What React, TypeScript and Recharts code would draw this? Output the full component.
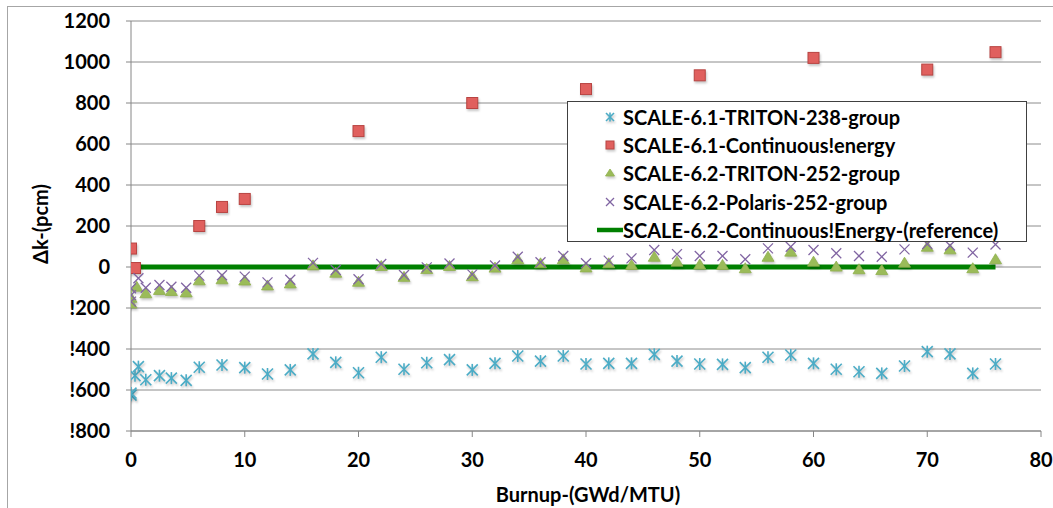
import React from "react";
import { ScatterChart, Scatter, XAxis, YAxis, CartesianGrid, Legend, Label } from "recharts";

// burnup (GWd/MTU) and delta-k (pcm)
const burnupT238 = [0, 0, 0.35, 0.65, 1.3, 2.5, 3.55, 4.85, 6, 8, 10, 12, 14, 16, 18, 20, 22, 24, 26, 28, 30, 32, 34, 36, 38, 40, 42, 44, 46, 48, 50, 52, 54, 56, 58, 60, 62, 64, 66, 68, 70, 72, 74, 76];
const dkT238 = [-625, -615, -530, -486, -550, -530, -542, -553, -489, -478, -491, -522, -502, -424, -465, -516, -440, -499, -467, -452, -502, -470, -434, -459, -434, -473, -470, -470, -426, -459, -473, -475, -491, -440, -429, -470, -499, -511, -519, -483, -413, -424, -519, -473];

const burnupCE61 = [0, 0.35, 6, 8, 10, 20, 30, 40, 50, 60, 70, 76];
const dkCE61 = [90, -5, 200, 293, 332, 663, 800, 868, 935, 1020, 963, 1048];

const burnupT252 = [0, 0, 0.5, 1.3, 2.5, 3.55, 4.85, 6, 8, 10, 12, 14, 16, 18, 20, 22, 24, 26, 28, 30, 32, 34, 36, 38, 40, 42, 44, 46, 48, 50, 52, 54, 56, 58, 60, 62, 64, 66, 68, 70, 72, 74, 76];
const dkT252 = [-150, -178, -96, -128, -112, -117, -124, -65, -60, -66, -90, -80, 8, -28, -72, 5, -48, -10, 5, -45, -3, 38, 18, 38, -2, 18, 10, 50, 26, 12, 10, -6, 50, 75, 26, 2, -11, -15, 21, 99, 86, -6, 38];

const burnupPol = [0, 0, 0, 0.65, 1.3, 2.5, 3.55, 4.85, 6, 8, 10, 12, 14, 16, 18, 20, 22, 24, 26, 28, 30, 32, 34, 36, 38, 40, 42, 44, 46, 48, 50, 52, 54, 56, 58, 60, 62, 64, 66, 68, 70, 72, 74, 76];
const dkPol = [-104, -137, -169, -55, -101, -88, -96, -101, -42, -40, -47, -75, -62, 20, -15, -60, 15, -39, -2, 17, -36, 7, 50, 23, 54, 18, 31, 42, 83, 63, 54, 54, 38, 91, 99, 83, 67, 54, 50, 86, 112, 105, 70, 110];

const burnupRef = [0, 76];
const dkRef = [0, 0];

const xTicks = [0, 10, 20, 30, 40, 50, 60, 70, 80];
const yTicks = [-800, -600, -400, -200, 0, 200, 400, 600, 800, 1000, 1200];

const names = [
  "SCALE-6.1-TRITON-238-group",
  "SCALE-6.1-Continuous!energy",
  "SCALE-6.2-TRITON-252-group",
  "SCALE-6.2-Polaris-252-group",
  "SCALE-6.2-Continuous!Energy-(reference)",
];

const BLUE = "#4bacc6";
const RED = "#e0605e";
const GREEN = "#9bbb59";
const PURPLE = "#8064a2";
const REF = "#008000";
const FONT = "Lato, 'Open Sans', sans-serif";
const shadow = "drop-shadow(1px 2px 1px rgba(0,0,0,0.22))";

const toPoints = (xs: number[], ys: number[]) => xs.map((x, i) => ({ x, y: ys[i] }));

const Star = ({ cx, cy, r = 5.5 }: any) => (
  <g stroke={BLUE} strokeWidth={1.6} style={{ filter: shadow }}>
    <line x1={cx - r} y1={cy - r} x2={cx + r} y2={cy + r} />
    <line x1={cx - r} y1={cy + r} x2={cx + r} y2={cy - r} />
    <line x1={cx} y1={cy - r - 0.5} x2={cx} y2={cy + r + 0.5} />
  </g>
);
const Square = ({ cx, cy, r = 5.5 }: any) => (
  <rect x={cx - r} y={cy - r} width={2 * r} height={2 * r} fill={RED} stroke="#b84442" strokeWidth={1} style={{ filter: shadow }} />
);
const Tri = ({ cx, cy, r = 5.5 }: any) => (
  <path d={`M${cx},${cy - r} L${cx + r + 0.5},${cy + r - 1} L${cx - r - 0.5},${cy + r - 1} Z`} fill={GREEN} stroke="#8fb04d" strokeWidth={0.8} style={{ filter: shadow }} />
);
const Cross = ({ cx, cy, r = 5 }: any) => (
  <g stroke={PURPLE} strokeWidth={1.3}>
    <line x1={cx - r} y1={cy - r} x2={cx + r} y2={cy + r} />
    <line x1={cx - r} y1={cy + r} x2={cx + r} y2={cy - r} />
  </g>
);

const LegendBox = () => {
  const icons = [
    <Star cx={13} cy={14} r={4} />,
    <Square cx={13} cy={14} r={4} />,
    <Tri cx={13} cy={14} r={4} />,
    <Cross cx={13} cy={14} r={4} />,
    <line x1={0} y1={14} x2={26} y2={14} stroke={REF} strokeWidth={4.5} />,
  ];
  return (
    <div style={{ width: 460, height: 141, boxSizing: "border-box", border: "1.5px solid #404040", background: "#fff", paddingTop: 1, paddingLeft: 29 }}>
      {names.map((n, i) => (
        <div key={n} style={{ display: "flex", alignItems: "center", height: 28.2 }}>
          <svg width={26} height={28} style={{ flex: "none" }}>{icons[i]}</svg>
          <span style={{ fontFamily: FONT, fontWeight: 700, fontSize: 20, color: "#000", whiteSpace: "nowrap", lineHeight: "28px" }}>{n}</span>
        </div>
      ))}
    </div>
  );
};

const tickStyle = { fontFamily: FONT, fontWeight: 700, fontSize: 20, fill: "#000" };

export default function App() {
  return (
    <div style={{ position: "absolute", left: 0, top: 0, width: 1053, height: 508, background: "#fff", overflow: "hidden" }}>
      <div style={{ position: "absolute", left: 7, top: 6, width: 1060, height: 520, borderLeft: "1px solid #a6a6a6", borderTop: "1px solid #a6a6a6" }} />
      <ScatterChart width={1053} height={508} margin={{ top: 21, right: 12, bottom: 0, left: 0 }}>
        <CartesianGrid vertical={false} stroke="#8c8c8c" />
        <XAxis
          type="number"
          dataKey="x"
          domain={[0, 80]}
          ticks={xTicks}
          height={77}
          tickSize={6}
          tickMargin={16}
          tick={tickStyle}
          stroke="#868686"
          allowDataOverflow
        >
          <Label
            content={() => (
              <text x={588} y={494} textAnchor="middle" dominantBaseline="central" style={{ fontFamily: FONT, fontWeight: 700, fontSize: 20 }} fill="#000">
                Burnup-(GWd/MTU)
              </text>
            )}
          />
        </XAxis>
        <YAxis
          type="number"
          dataKey="y"
          domain={[-800, 1200]}
          ticks={yTicks}
          width={131}
          tickSize={5}
          tickMargin={16}
          tick={tickStyle}
          tickFormatter={(v: number) => (v < 0 ? "!" + Math.abs(v) : String(v))}
          stroke="#868686"
          allowDataOverflow
        >
          <Label
            content={() => (
              <text x={40} y={224} transform="rotate(-90 40 224)" textAnchor="middle" dominantBaseline="central" style={{ fontFamily: FONT, fontWeight: 700, fontSize: 20 }} fill="#000">
                Δk-(pcm)
              </text>
            )}
          />
        </YAxis>
        <Legend
          layout="vertical"
          align="center"
          verticalAlign="middle"
          content={() => <LegendBox />}
          wrapperStyle={{ left: 567, top: 101, width: 460, height: 141 }}
        />
        <Scatter name={names[4]} data={toPoints(burnupRef, dkRef)} line={{ stroke: REF, strokeWidth: 5 }} shape={() => <g />} isAnimationActive={false} />
        <Scatter name={names[0]} data={toPoints(burnupT238, dkT238)} shape={(p: any) => <Star cx={p.cx} cy={p.cy} />} isAnimationActive={false} />
        <Scatter name={names[1]} data={toPoints(burnupCE61, dkCE61)} shape={(p: any) => <Square cx={p.cx} cy={p.cy} />} isAnimationActive={false} />
        <Scatter name={names[2]} data={toPoints(burnupT252, dkT252)} shape={(p: any) => <Tri cx={p.cx} cy={p.cy} />} isAnimationActive={false} />
        <Scatter name={names[3]} data={toPoints(burnupPol, dkPol)} shape={(p: any) => <Cross cx={p.cx} cy={p.cy} />} isAnimationActive={false} />
      </ScatterChart>
    </div>
  );
}
